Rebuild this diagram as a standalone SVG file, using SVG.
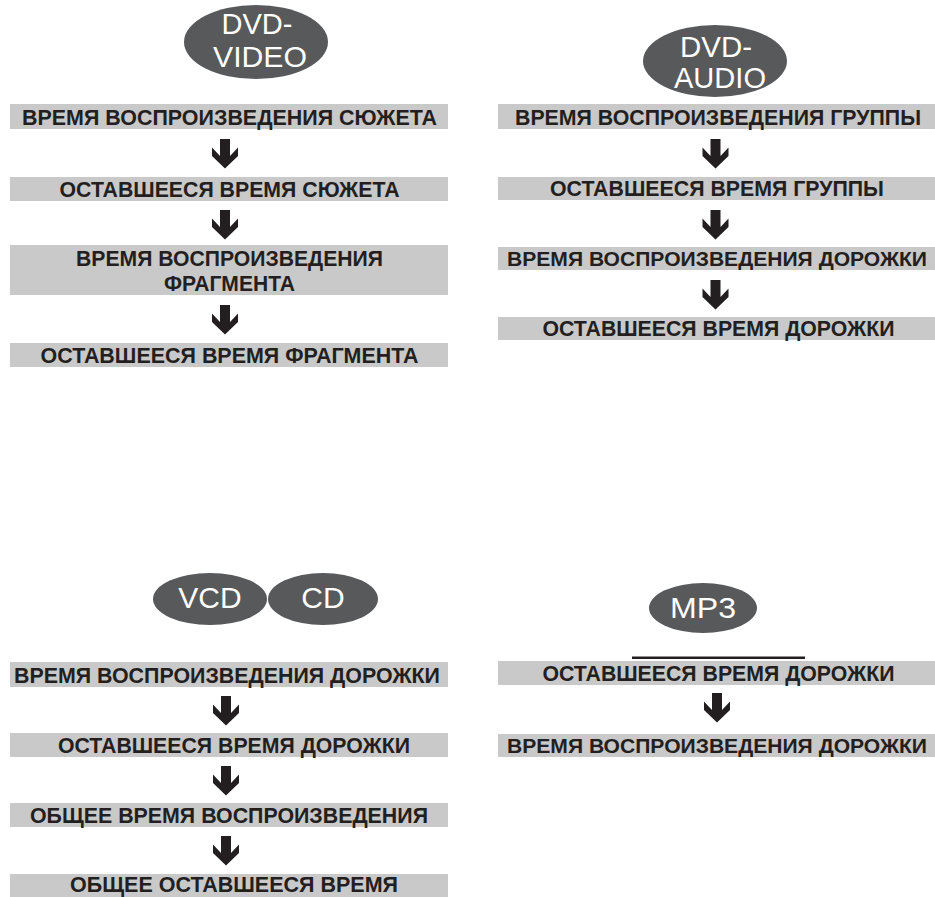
<svg xmlns="http://www.w3.org/2000/svg" width="935" height="897" viewBox="0 0 935 897">
<defs>
<style>
.bar{fill:#c9c9ca}
.t{font-family:"Liberation Sans",Arial,sans-serif;font-weight:bold;font-size:22px;fill:#231f20;text-anchor:middle}
.tn{font-size:21px}
.disc{fill:#58595b}
.dt{font-family:"Liberation Sans",Arial,sans-serif;font-size:30px;fill:#ffffff;text-anchor:middle}
.arr{fill:#231f20}
</style>
<path id="arrow" d="M-5,0 H5 V17 L13,8.5 V17 L0,29.5 L-13,17 V8.5 L-5,17 Z"/>
</defs>
<rect width="935" height="897" fill="#ffffff"/>

<g id="connectors" class="arr">
<use href="#arrow" x="225" y="139"/>
<use href="#arrow" x="225" y="210"/>
<use href="#arrow" x="225" y="305"/>
<use href="#arrow" x="715.5" y="139"/>
<use href="#arrow" x="715.5" y="210"/>
<use href="#arrow" x="715.5" y="280"/>
<use href="#arrow" x="226" y="696"/>
<use href="#arrow" x="226" y="766"/>
<use href="#arrow" x="226" y="836"/>
<use href="#arrow" x="717" y="693"/>
</g>

<g id="disc-dvd-video"><ellipse class="disc" cx="256" cy="42" rx="72" ry="37"/><text class="dt" x="257" y="34" textLength="71" lengthAdjust="spacingAndGlyphs">DVD-</text><text class="dt" x="260" y="67" textLength="94" lengthAdjust="spacingAndGlyphs">VIDEO</text></g>
<g id="disc-dvd-audio"><ellipse class="disc" cx="715" cy="61" rx="72" ry="36"/><text class="dt" x="716" y="57" textLength="72" lengthAdjust="spacingAndGlyphs">DVD-</text><text class="dt" x="720" y="88" textLength="92" lengthAdjust="spacingAndGlyphs">AUDIO</text></g>
<g id="disc-vcd"><ellipse class="disc" cx="210" cy="599" rx="57" ry="26"/><text class="dt" x="210" y="608" font-size="26">VCD</text></g>
<g id="disc-cd"><ellipse class="disc" cx="323" cy="599" rx="55" ry="26"/><text class="dt" x="323" y="608" font-size="26">CD</text></g>
<g id="disc-mp3"><ellipse class="disc" cx="703" cy="608" rx="54" ry="25"/><text class="dt" x="703" y="618" font-size="29" textLength="66" lengthAdjust="spacingAndGlyphs">MP3</text></g>

<g id="v1"><rect class="bar" x="10" y="104" width="438" height="25"/><text class="t" x="229.5" y="125" textLength="415" lengthAdjust="spacingAndGlyphs">ВРЕМЯ ВОСПРОИЗВЕДЕНИЯ СЮЖЕТА</text></g>
<g id="v2"><rect class="bar" x="10" y="177" width="438" height="24"/><text class="t" x="229.5" y="197" textLength="340" lengthAdjust="spacingAndGlyphs">ОСТАВШЕЕСЯ ВРЕМЯ СЮЖЕТА</text></g>
<g id="v3"><rect class="bar" x="10" y="245" width="438" height="50"/><text class="t" x="229.5" y="266" textLength="307" lengthAdjust="spacingAndGlyphs">ВРЕМЯ ВОСПРОИЗВЕДЕНИЯ</text><text class="t" x="229.5" y="291" textLength="131" lengthAdjust="spacingAndGlyphs">ФРАГМЕНТА</text></g>
<g id="v4"><rect class="bar" x="10" y="343" width="438" height="24"/><text class="t" x="229.5" y="363" textLength="378" lengthAdjust="spacingAndGlyphs">ОСТАВШЕЕСЯ ВРЕМЯ ФРАГМЕНТА</text></g>

<g id="a1"><rect class="bar" x="498" y="104" width="437" height="25"/><text class="t" x="718" y="125" textLength="406" lengthAdjust="spacingAndGlyphs">ВРЕМЯ ВОСПРОИЗВЕДЕНИЯ ГРУППЫ</text></g>
<g id="a2"><rect class="bar" x="498" y="177" width="437" height="23"/><text class="t" x="717" y="196" textLength="334" lengthAdjust="spacingAndGlyphs">ОСТАВШЕЕСЯ ВРЕМЯ ГРУППЫ</text></g>
<g id="a3"><rect class="bar" x="498" y="247" width="437" height="23"/><text class="t tn" x="717" y="265.5" textLength="420" lengthAdjust="spacingAndGlyphs">ВРЕМЯ ВОСПРОИЗВЕДЕНИЯ ДОРОЖКИ</text></g>
<g id="a4"><rect class="bar" x="498" y="317" width="437" height="23"/><text class="t" x="718.5" y="335.5" textLength="352" lengthAdjust="spacingAndGlyphs">ОСТАВШЕЕСЯ ВРЕМЯ ДОРОЖКИ</text></g>

<g id="c1"><rect class="bar" x="10" y="662" width="438" height="25"/><text class="t" x="227" y="682.5" textLength="426" lengthAdjust="spacingAndGlyphs">ВРЕМЯ ВОСПРОИЗВЕДЕНИЯ ДОРОЖКИ</text></g>
<g id="c2"><rect class="bar" x="10" y="733" width="438" height="24"/><text class="t" x="234" y="752.5" textLength="352" lengthAdjust="spacingAndGlyphs">ОСТАВШЕЕСЯ ВРЕМЯ ДОРОЖКИ</text></g>
<g id="c3"><rect class="bar" x="10" y="803" width="438" height="24"/><text class="t" x="229" y="822.5" textLength="398" lengthAdjust="spacingAndGlyphs">ОБЩЕЕ ВРЕМЯ ВОСПРОИЗВЕДЕНИЯ</text></g>
<g id="c4"><rect class="bar" x="10" y="874" width="438" height="23"/><text class="t" x="234" y="892" textLength="328" lengthAdjust="spacingAndGlyphs">ОБЩЕЕ ОСТАВШЕЕСЯ ВРЕМЯ</text></g>

<g id="m-line"><rect x="632" y="656.5" width="173" height="2.5" fill="#231f20"/></g>
<g id="m1"><rect class="bar" x="498" y="661" width="437" height="24"/><text class="t" x="718.5" y="680.5" textLength="352" lengthAdjust="spacingAndGlyphs">ОСТАВШЕЕСЯ ВРЕМЯ ДОРОЖКИ</text></g>
<g id="m2"><rect class="bar" x="498" y="734" width="437" height="23"/><text class="t tn" x="717" y="752.5" textLength="420" lengthAdjust="spacingAndGlyphs">ВРЕМЯ ВОСПРОИЗВЕДЕНИЯ ДОРОЖКИ</text></g>
</svg>
